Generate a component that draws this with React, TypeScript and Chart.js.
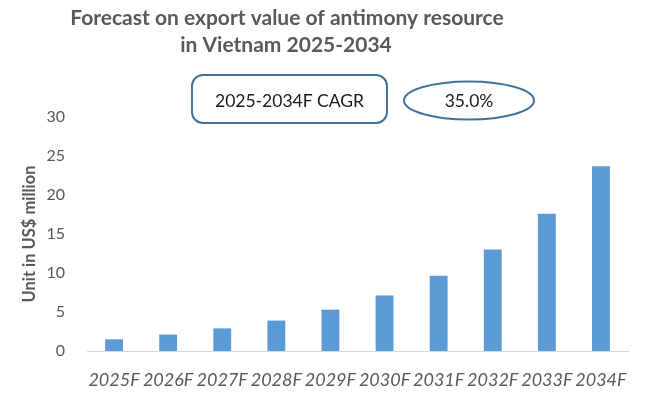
import React, { useEffect, useRef } from "react";
import { Chart, registerables } from "chart.js";

Chart.register(...registerables);

const categories = ["2025F", "2026F", "2027F", "2028F", "2029F", "2030F", "2031F", "2032F", "2033F", "2034F"];
const exportValues = [1.5, 2.1, 2.9, 3.9, 5.3, 7.1, 9.65, 13.0, 17.6, 23.7];
const titleLines = ["Forecast on export value of antimony resource", "in Vietnam 2025-2034"];
const cagrLabel = "2025-2034F CAGR";
const cagrValue = "35.0%";
const yAxisTitle = "Unit in US$ million";

const GRAY = "#595959";
const BORDER = "#41719C";

const overlayPlugin = {
  id: "overlay",
  afterDraw(chart: any) {
    const ctx = chart.ctx as CanvasRenderingContext2D;
    ctx.save();
    // title
    ctx.fillStyle = GRAY;
    ctx.font = "bold 21px Lato";
    ctx.textAlign = "center";
    ctx.textBaseline = "alphabetic";
    ctx.fillText(titleLines[0], 287, 25);
    ctx.fillText(titleLines[1], 286, 52);

    // rounded box
    const x = 192, y = 75, w = 195, h = 48, r = 11;
    ctx.beginPath();
    ctx.moveTo(x + r, y);
    ctx.lineTo(x + w - r, y);
    ctx.arcTo(x + w, y, x + w, y + r, r);
    ctx.lineTo(x + w, y + h - r);
    ctx.arcTo(x + w, y + h, x + w - r, y + h, r);
    ctx.lineTo(x + r, y + h);
    ctx.arcTo(x, y + h, x, y + h - r, r);
    ctx.lineTo(x, y + r);
    ctx.arcTo(x, y, x + r, y, r);
    ctx.closePath();
    ctx.fillStyle = "#ffffff";
    ctx.fill();
    ctx.lineWidth = 2;
    ctx.strokeStyle = BORDER;
    ctx.stroke();
    ctx.fillStyle = "#1a1a1a";
    ctx.font = "17.5px Lato";
    ctx.textBaseline = "alphabetic";
    ctx.fillText(cagrLabel, x + w / 2, 107);

    // ellipse
    ctx.beginPath();
    ctx.ellipse(469, 100.5, 65, 19, 0, 0, Math.PI * 2);
    ctx.fillStyle = "#ffffff";
    ctx.fill();
    ctx.stroke();
    ctx.fillStyle = "#1a1a1a";
    ctx.fillText(cagrValue, 469, 107);
    ctx.restore();
  },
};

export default function App() {
  const ref = useRef<HTMLCanvasElement>(null);
  useEffect(() => {
    document.body.style.margin = "0";
    const chart = new Chart(ref.current!, {
      type: "bar",
      data: {
        labels: categories,
        datasets: [
          {
            data: exportValues,
            backgroundColor: "#5B9BD5",
            borderWidth: 0,
            barPercentage: 0.33,
            categoryPercentage: 1,
          },
        ],
      },
      options: {
        responsive: false,
        animation: false,
        maintainAspectRatio: false,
        layout: { padding: { top: 117, right: 22, left: 0, bottom: 0 } },
        plugins: {
          legend: { display: false },
          tooltip: { enabled: false },
          title: { display: false },
        },
        scales: {
          x: {
            grid: { display: false },
            border: { display: true, color: "#D9D9D9", width: 1 },
            ticks: {
              color: GRAY,
              font: { family: "Lato", size: 18, style: "italic" },
              autoSkip: false,
              maxRotation: 0,
              minRotation: 0,
              padding: 10,
            },
            afterFit: (s: any) => {
              s.height = 43;
            },
          },
          y: {
            min: 0,
            max: 30,
            ticks: {
              stepSize: 5,
              color: GRAY,
              font: { family: "Lato", size: 16 },
              padding: 22,
            },
            grid: { display: false, drawTicks: false },
            border: { display: false },
            title: {
              display: true,
              text: yAxisTitle,
              color: GRAY,
              font: { family: "Lato", size: 16.5, weight: "bold" },
              padding: { top: 20, bottom: 0 },
            },
            afterFit: (s: any) => {
              s.width = 87;
            },
          },
        },
      },
      plugins: [overlayPlugin],
    });
    return () => chart.destroy();
  }, []);
  return (
    <div style={{ width: 650, height: 394 }}>
      <canvas ref={ref} width={650} height={394} />
    </div>
  );
}
